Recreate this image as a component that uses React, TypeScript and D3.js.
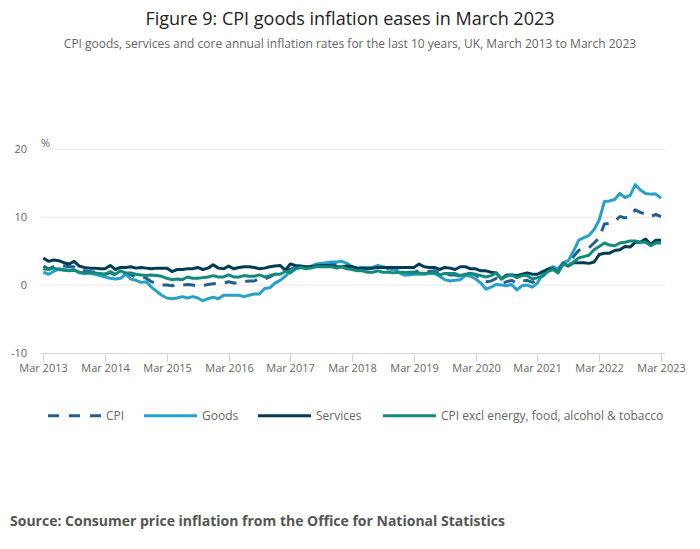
import React from 'react';
import * as d3 from 'd3';

// monthly annual rates, Mar 2013 .. Mar 2023
const cpi = [
  2.8, 2.4, 2.7, 2.9, 2.8, 2.7, 2.7, 2.2, 2.1, 2.0,
  1.9, 1.7, 1.6, 1.8, 1.5, 1.9, 1.6, 1.5, 1.2, 1.3, 1.0, 0.5,
  0.3, 0.0, 0.0, -0.1, 0.1, 0.0, 0.1, 0.0, -0.1, -0.1, 0.1, 0.2,
  0.3, 0.3, 0.5, 0.3, 0.3, 0.5, 0.6, 0.6, 1.0, 0.9, 1.2, 1.6,
  1.8, 2.3, 2.3, 2.7, 2.9, 2.6, 2.6, 2.9, 3.0, 3.0, 3.1, 3.0,
  3.0, 2.7, 2.5, 2.4, 2.4, 2.4, 2.5, 2.7, 2.4, 2.4, 2.3, 2.1,
  1.8, 1.9, 1.9, 2.1, 2.0, 2.0, 2.1, 1.7, 1.7, 1.5, 1.5, 1.3,
  1.8, 1.7, 1.5, 0.8, 0.5, 0.6, 1.0, 0.2, 0.5, 0.7, 0.3, 0.6,
  0.7, 0.4, 0.7, 1.5, 2.1, 2.5, 2.0, 3.2, 3.1, 4.2, 5.1, 5.4,
  5.5, 6.2, 7.0, 9.0, 9.1, 9.4, 10.1, 9.9, 10.1, 11.1, 10.7, 10.5,
  10.1, 10.4, 10.1,
];

const goods = [
  1.9, 1.6, 2.0, 2.4, 2.3, 2.2, 2.3, 1.8, 1.7, 1.8,
  1.6, 1.4, 1.2, 1.0, 0.9, 1.0, 1.6, 0.9, 0.7, 0.4, 0.5, -0.3,
  -0.9, -1.5, -1.9, -2.0, -1.9, -1.7, -1.9, -1.7, -1.9, -2.3, -2.0, -1.8,
  -2.0, -1.5, -1.5, -1.5, -1.5, -1.7, -1.5, -1.3, -1.3, -0.5, -0.4, 0.3,
  0.7, 1.3, 2.0, 2.4, 2.7, 2.5, 2.8, 3.1, 3.2, 3.3, 3.4, 3.4,
  3.5, 3.2, 2.7, 2.5, 2.6, 2.6, 2.6, 2.9, 2.7, 2.5, 2.3, 1.9,
  1.5, 1.5, 1.6, 1.6, 1.6, 1.7, 1.7, 1.3, 0.8, 0.6, 0.7, 0.8,
  1.4, 1.3, 0.9, 0.3, -0.6, -0.3, 0.1, 0.0, -0.1, 0.1, -0.7, -0.1,
  0.0, -0.3, 0.3, 1.7, 2.4, 2.7, 2.4, 3.3, 3.6, 5.0, 6.6, 7.0,
  7.3, 8.2, 9.6, 12.3, 12.4, 12.6, 13.5, 12.9, 13.2, 14.8, 14.0, 13.5,
  13.4, 13.4, 12.8,
];

const services = [
  4.0, 3.5, 3.7, 3.6, 3.3, 3.1, 3.5, 2.8, 2.6, 2.5,
  2.5, 2.4, 2.4, 2.9, 2.3, 2.6, 2.6, 2.7, 2.5, 2.6, 2.5, 2.4,
  2.5, 2.5, 2.5, 2.0, 2.3, 2.3, 2.4, 2.4, 2.6, 2.3, 2.5, 3.0,
  2.5, 2.4, 2.8, 2.4, 2.6, 2.7, 2.7, 2.6, 2.4, 2.5, 2.7, 2.8,
  2.9, 2.2, 3.1, 2.9, 2.8, 2.7, 2.7, 2.8, 2.9, 2.9, 2.8, 2.7,
  2.7, 2.8, 2.7, 2.5, 2.5, 2.4, 2.5, 2.6, 2.6, 2.6, 2.6, 2.6,
  2.6, 2.6, 2.6, 3.1, 2.7, 2.6, 2.6, 2.3, 2.6, 2.5, 2.3, 2.7,
  2.7, 2.4, 2.4, 2.1, 2.1, 1.9, 1.8, 0.9, 1.5, 1.5, 1.4, 1.6,
  1.8, 1.6, 1.6, 2.0, 2.3, 2.4, 1.9, 3.2, 2.8, 3.3, 3.3, 3.3,
  3.2, 3.4, 4.5, 4.7, 4.7, 5.1, 5.2, 5.7, 5.6, 6.3, 6.3, 6.8,
  6.0, 6.6, 6.6,
];

const core = [
  2.4, 2.3, 2.5, 2.3, 2.2, 2.1, 2.2, 1.9, 1.8, 1.8,
  1.8, 1.7, 1.6, 2.0, 1.6, 2.1, 1.8, 1.8, 1.6, 1.5, 1.4, 1.5,
  1.4, 1.3, 1.0, 0.8, 0.9, 0.8, 1.2, 1.0, 1.0, 1.1, 1.2, 1.4,
  1.2, 1.2, 1.5, 1.2, 1.2, 1.4, 1.3, 1.3, 1.5, 1.2, 1.4, 1.6,
  1.6, 2.0, 1.8, 2.4, 2.6, 2.4, 2.5, 2.7, 2.7, 2.7, 2.7, 2.5,
  2.7, 2.4, 2.3, 2.1, 2.1, 1.9, 1.9, 2.1, 1.9, 1.9, 1.8, 1.9,
  1.9, 1.8, 1.8, 1.8, 1.7, 1.8, 1.9, 1.5, 1.7, 1.7, 1.7, 1.4,
  1.6, 1.7, 1.6, 1.4, 1.2, 1.4, 1.8, 0.9, 1.3, 1.5, 1.1, 1.4,
  1.4, 0.9, 1.1, 1.3, 2.0, 2.3, 1.8, 3.1, 2.9, 3.4, 4.0, 4.2,
  4.4, 5.2, 5.7, 6.2, 5.9, 5.8, 6.2, 6.3, 6.5, 6.5, 6.3, 6.3,
  5.8, 6.2, 6.2,
];

const xTickLabels = [
  'Mar 2013', 'Mar 2014', 'Mar 2015', 'Mar 2016', 'Mar 2017', 'Mar 2018',
  'Mar 2019', 'Mar 2020', 'Mar 2021', 'Mar 2022', 'Mar 2023',
];
const yTicks = [-10, 0, 10, 20];

const seriesNames = ['CPI', 'Goods', 'Services', 'CPI excl energy, food, alcohol & tobacco'];
const seriesColors = ['#206095', '#27a0cc', '#003c57', '#118c7b'];
const seriesData = [cpi, goods, services, core];

const W = 700;
const H = 549;
const FONT = "'Open Sans', 'Noto Sans', sans-serif";

const App: React.FC = () => {
  const x = d3.scaleLinear().domain([0, cpi.length - 1]).range([43.3, 661]);
  const y = d3.scaleLinear().domain([-10, 20]).range([353, 149.3]);

  const line = d3
    .line<number>()
    .x((_, i) => x(i))
    .y((d) => y(d));

  const legendX = [48, 144, 258, 383];

  return (
    <svg
      width={W}
      height={H}
      style={{ position: 'absolute', left: 0, top: 0, background: '#fff' }}
      fontFamily={FONT}
    >
      <text x={350} y={25} textAnchor="middle" fontSize={18} fill="#222">
        Figure 9: CPI goods inflation eases in March 2023
      </text>
      <text x={350} y={48} textAnchor="middle" fontSize={12} fill="#666">
        CPI goods, services and core annual inflation rates for the last 10 years, UK, March 2013 to March 2023
      </text>

      {/* grid */}
      <g>
        {yTicks.map((t) => (
          <g key={t}>
            {t !== -10 && (
              <line x1={41} x2={665} y1={y(t)} y2={y(t)} stroke="#e6e6e6" strokeWidth={1} />
            )}
            <text x={27} y={y(t) + 4} textAnchor="end" fontSize={11} fill="#666">
              {t}
            </text>
          </g>
        ))}
        <text x={41} y={147} fontSize={11} fill="#666">
          %
        </text>
      </g>

      {/* x axis */}
      <g>
        <line x1={41} x2={665} y1={353.5} y2={353.5} stroke="#ccd6eb" strokeWidth={1} />
        {xTickLabels.map((lab, i) => {
          const px = Math.round(x(i * 12)) + 0.5;
          return (
            <g key={lab}>
              <line x1={px} x2={px} y1={353} y2={362} stroke="#ccd6eb" strokeWidth={1} />
              <text x={px} y={372} textAnchor="middle" fontSize={11} fill="#666">
                {lab}
              </text>
            </g>
          );
        })}
      </g>

      {/* series */}
      <g fill="none" strokeWidth={3} strokeLinejoin="round" strokeLinecap="butt">
        {seriesData.map((s, i) => (
          <path
            key={seriesNames[i]}
            d={line(s) || ''}
            stroke={seriesColors[i]}
            strokeDasharray={i === 0 ? '12,9' : undefined}
          />
        ))}
      </g>

      {/* legend */}
      <g>
        {seriesNames.map((n, i) => (
          <g key={n}>
            <line
              x1={legendX[i]}
              x2={legendX[i] + 53}
              y1={415.7}
              y2={415.7}
              stroke={seriesColors[i]}
              strokeWidth={3}
              strokeDasharray={i === 0 ? '11,10' : undefined}
            />
            <text x={legendX[i] + 58} y={420} fontSize={12} fill="#666">
              {n}
            </text>
          </g>
        ))}
      </g>

      <text x={10} y={526} fontSize={14} fontWeight="bold" fill="#555">
        Source: Consumer price inflation from the Office for National Statistics
      </text>
    </svg>
  );
};

export default App;
